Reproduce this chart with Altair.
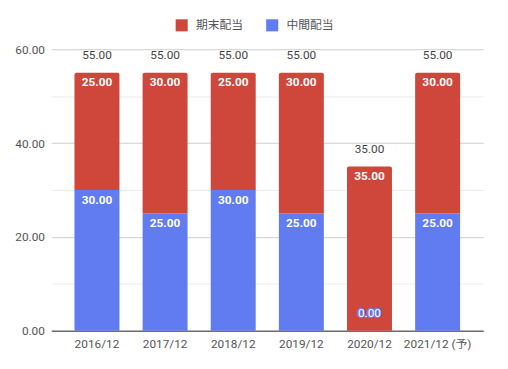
import altair as alt
import pandas as pd

years = ["2016/12", "2017/12", "2018/12", "2019/12", "2020/12", "2021/12 (予)"]
interim = [30, 25, 30, 25, 0, 25]      # 中間配当
final = [25, 30, 25, 30, 35, 30]       # 期末配当
series_names = ["期末配当", "中間配当"]
colors = ["#cf463b", "#607cf0"]

rows = []
for yr, a, b in zip(years, interim, final):
    rows.append({"year": yr, "series": "中間配当", "value": a, "start": 0, "end": a})
    rows.append({"year": yr, "series": "期末配当", "value": b, "start": a, "end": a + b})
df = pd.DataFrame(rows)
tot = pd.DataFrame({"year": years, "total": [a + b for a, b in zip(interim, final)]})

FONT = "Roboto, 'Noto Sans CJK JP'"

xenc = alt.X("year:N", sort=years, title=None,
             scale=alt.Scale(paddingInner=0.34, paddingOuter=0.34),
             axis=alt.Axis(labelAngle=0, ticks=False, grid=False, domainColor="#333", domainWidth=1,
                           labelColor="#555", labelFontSize=12, labelPadding=8, labelFont=FONT))
yscale = alt.Scale(domain=[0, 60], nice=False)
color = alt.Color("series:N",
                  scale=alt.Scale(domain=series_names, range=colors),
                  legend=alt.Legend(title=None, orient="none", direction="horizontal",
                                    legendX=126, legendY=-31, symbolType="square",
                                    symbolSize=150, symbolStrokeWidth=0, symbolOpacity=1,
                                    labelFontSize=12, labelColor="#555", labelFont=FONT,
                                    columnPadding=22, labelOffset=8, padding=0))

base = alt.Chart(df)

bars_blue = base.transform_filter("datum.series === '中間配当'").mark_bar().encode(
    x=xenc,
    y=alt.Y("start:Q", scale=yscale, title=None,
            axis=alt.Axis(values=[0, 10, 20, 30, 40, 50, 60], domain=False, ticks=False, grid=True,
                          labelExpr="datum.value % 20 === 0 ? format(datum.value, '.2f') : ''",
                          gridColor={"condition": {"test": "datum.value % 20 === 0", "value": "#cccccc"},
                                     "value": "#ebebeb"},
                          labelColor="#555", labelFontSize=12, labelPadding=7, labelFont=FONT)),
    y2="end:Q",
    color=color,
)
bars_red = base.transform_filter("datum.series === '期末配当'").mark_bar(
    cornerRadiusTopLeft=2, cornerRadiusTopRight=2).encode(
    x=alt.X("year:N", sort=years), y=alt.Y("start:Q", scale=yscale), y2="end:Q", color=color)

seg_labels = base.transform_filter("datum.value > 0").mark_text(
    color="white", fontWeight="bold", fontSize=12, font=FONT, dy=10, baseline="middle").encode(
    x=alt.X("year:N", sort=years), y=alt.Y("end:Q", scale=yscale),
    text=alt.Text("value:Q", format=".2f"))

zero_halo = base.transform_filter("datum.value === 0").mark_text(
    color="white", stroke="#607cf0", strokeWidth=2.5, fontSize=12, font=FONT,
    dy=-18, baseline="middle").encode(
    x=alt.X("year:N", sort=years), y=alt.Y("end:Q", scale=yscale),
    text=alt.Text("value:Q", format=".2f"))
zero_text = base.transform_filter("datum.value === 0").mark_text(
    color="white", fontSize=12, font=FONT,
    dy=-18, baseline="middle").encode(
    x=alt.X("year:N", sort=years), y=alt.Y("end:Q", scale=yscale),
    text=alt.Text("value:Q", format=".2f"))

tot_labels = alt.Chart(tot).mark_text(
    color="#444", fontSize=12, font=FONT, dy=-18, baseline="middle").encode(
    x=alt.X("year:N", sort=years), y=alt.Y("total:Q", scale=yscale),
    text=alt.Text("total:Q", format=".2f"))

chart = alt.layer(bars_blue, bars_red, seg_labels, zero_halo, zero_text, tot_labels).properties(
    width=439, height=286,
    padding={"left": 44, "top": 39, "right": 17, "bottom": 36},
    autosize="none",
).configure_view(stroke=None)

chart.save("out.html", embed_options={"renderer": "svg", "actions": False})
